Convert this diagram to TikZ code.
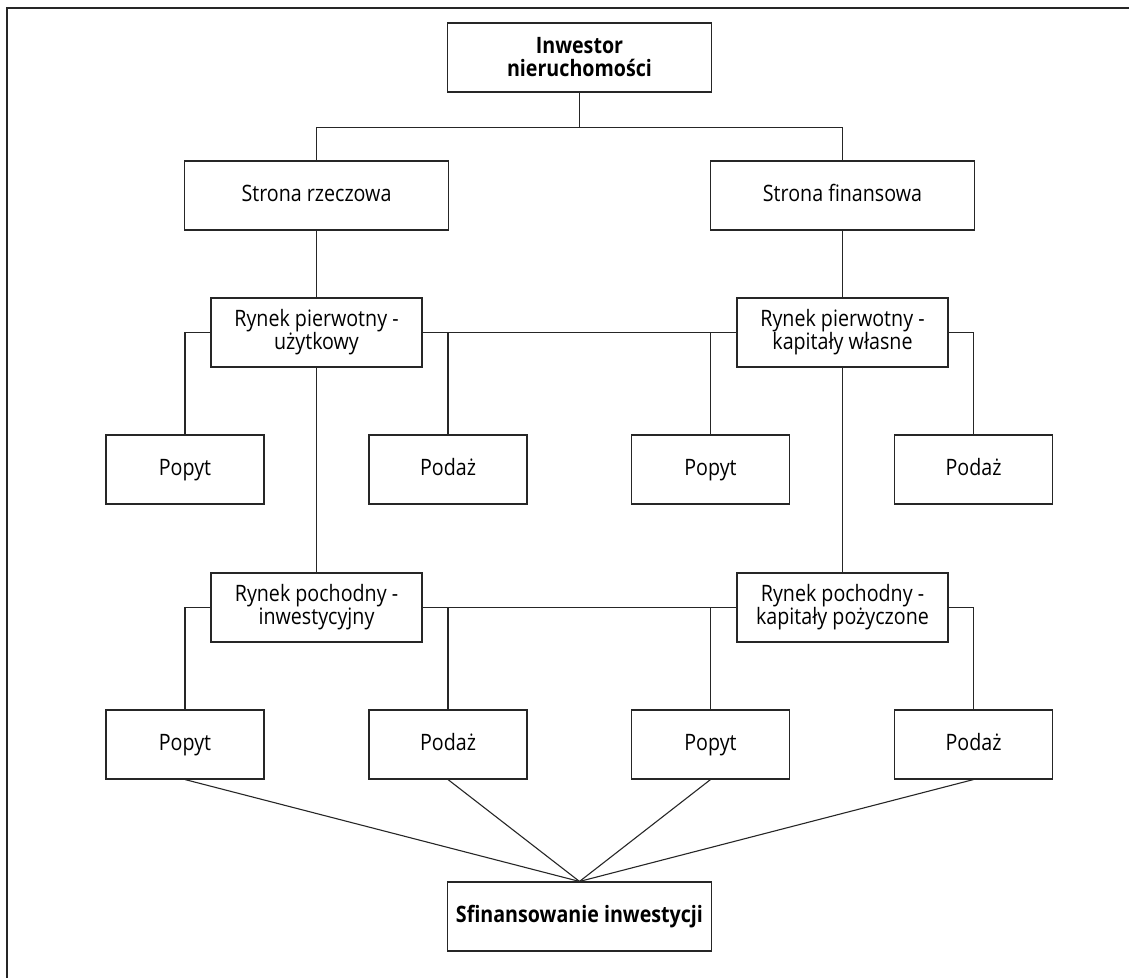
\documentclass[tikz,border=0pt]{standalone}
\usepackage{fontspec}
\setmainfont{Open Sans}[FakeStretch=0.87]
\usepackage{tikz}
\tikzset{
  box/.style={draw=black!85, line width=0.55pt, inner sep=0pt, align=center,
    minimum height=34.5pt, font=\fontsize{11.3}{11.5}\selectfont},
  widebox/.style={box, minimum width=132pt},
  midbox/.style={box, minimum width=105.5pt},
  smallbox/.style={box, minimum width=79pt, text height=8.2pt, text depth=2.6pt},
  link/.style={draw=black!85, line width=0.55pt}
}

\begin{document}
\begin{tikzpicture}[x=0.5pt, y=-0.5pt]
\useasboundingbox (0,0) rectangle (1129,978);
\draw [link] (7,978) -- (7,8) -- (1129,8);

\node [widebox] (inwestor) at (579.5,57.5) {\bfseries Inwestor\\ \bfseries nieruchomości};
\node [widebox, text height=8.2pt, text depth=2.6pt] (rzeczowa) at (316.5,195.5) {Strona rzeczowa};
\node [widebox, text height=8.2pt, text depth=2.6pt] (finansowa) at (842.5,195.5) {Strona finansowa};
\draw [link] (inwestor.south) -- ++(0,35) -| (rzeczowa.north);
\draw [link] (inwestor.south) -- ++(0,35) -| (finansowa.north);

% rynek pierwotny
\node [midbox] (pierwU) at (316.5,332.5) {Rynek pierwotny -\\ użytkowy};
\node [midbox] (pierwK) at (842.5,332.5) {Rynek pierwotny -\\ kapitały własne};
\draw [link] (rzeczowa) -- (pierwU);
\draw [link] (finansowa) -- (pierwK);
\draw [link] (pierwU) -- (pierwK);
\node [smallbox] (popytA) at (185,469.5) {Popyt};
\node [smallbox] (podazA) at (448,469.5) {Podaż};
\node [smallbox] (popytB) at (710.5,469.5) {Popyt};
\node [smallbox] (podazB) at (973.5,469.5) {Podaż};
\draw [link] (pierwU.west) -| (popytA.north);
\draw [link] (pierwU.east) -| (podazA.north);
\draw [link] (pierwK.west) -| (popytB.north);
\draw [link] (pierwK.east) -| (podazB.north);

% rynek pochodny
\node [midbox] (pochI) at (316.5,607.5) {Rynek pochodny -\\ inwestycyjny};
\node [midbox] (pochK) at (842.5,607.5) {Rynek pochodny -\\ kapitały pożyczone};
\draw [link] (pierwU) -- (pochI);
\draw [link] (pierwK) -- (pochK);
\draw [link] (pochI) -- (pochK);
\node [smallbox] (popytC) at (185,744.5) {Popyt};
\node [smallbox] (podazC) at (448,744.5) {Podaż};
\node [smallbox] (popytD) at (710.5,744.5) {Popyt};
\node [smallbox] (podazD) at (973.5,744.5) {Podaż};
\draw [link] (pochI.west) -| (popytC.north);
\draw [link] (pochI.east) -| (podazC.north);
\draw [link] (pochK.west) -| (popytD.north);
\draw [link] (pochK.east) -| (podazD.north);

\node [widebox, text height=8.2pt, text depth=2.6pt] (sfin) at (579.5,916.5) {\bfseries Sfinansowanie inwestycji};
\draw [link] (popytC.south) -- (sfin.north);
\draw [link] (podazC.south) -- (sfin.north);
\draw [link] (popytD.south) -- (sfin.north);
\draw [link] (podazD.south) -- (sfin.north);
\end{tikzpicture}
\end{document}
